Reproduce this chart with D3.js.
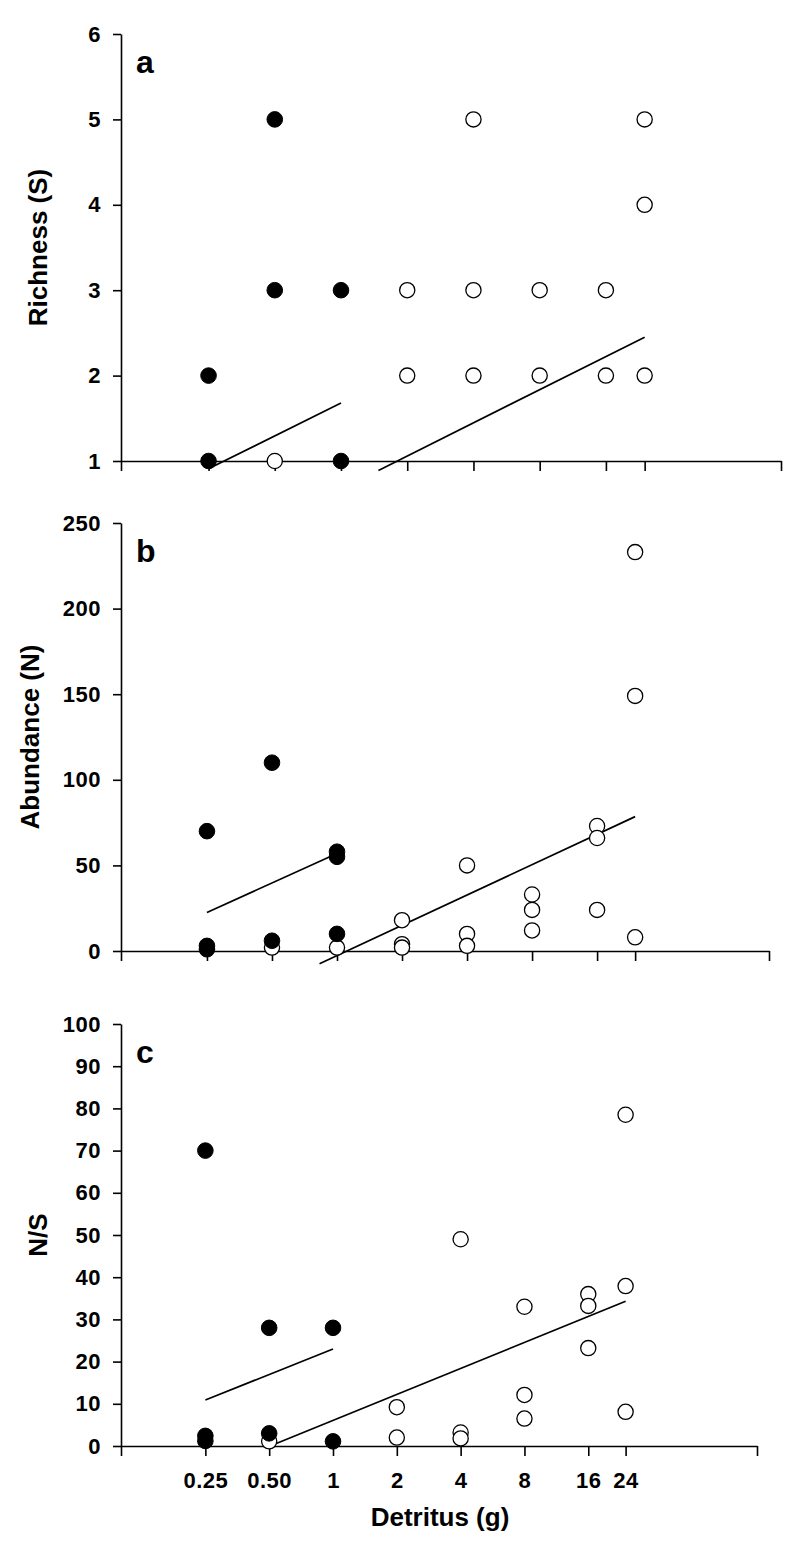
<!DOCTYPE html>
<html>
<head>
<meta charset="utf-8">
<script src="https://cdn.jsdelivr.net/npm/d3@7/dist/d3.min.js"></script>
<style>
  html, body { margin: 0; padding: 0; background: #fff; }
  svg { display: block; }
  text { font-family: "Liberation Sans", Arial, Helvetica, sans-serif; font-weight: bold; fill: #000; }
</style>
</head>
<body>
<svg id="chart" width="800" height="1551"></svg>
<script>
// ---------- data ----------
const xTickValues = [0.25, 0.5, 1, 2, 4, 8, 16, 24];
const xTickLabels = ["0.25", "0.50", "1", "2", "4", "8", "16", "24"];

// Panel a: Richness (S)
const richTicks = [1, 2, 3, 4, 5, 6];
const richFilledX = [0.25, 0.25, 0.5, 0.5, 1, 1];
const richFilledY = [2, 1, 5, 3, 3, 1];
const richOpenX = [0.5, 2, 2, 4, 4, 4, 8, 8, 16, 16, 24, 24, 24];
const richOpenY = [1, 3, 2, 5, 3, 2, 3, 2, 3, 2, 5, 4, 2];
const richFilledLine = [[0.255, 0.92], [1, 1.68]];
const richOpenLine = [[1.48, 0.89], [24, 2.45]];

// Panel b: Abundance (N)
const abunTicks = [0, 50, 100, 150, 200, 250];
const abunFilledX = [0.25, 0.25, 0.25, 0.5, 0.5, 1, 1, 1];
const abunFilledY = [70, 3, 1, 110, 6, 58, 55, 10];
const abunOpenX = [0.5, 1, 2, 2, 2, 4, 4, 4, 8, 8, 8, 16, 16, 16, 24, 24, 24];
const abunOpenY = [2, 2, 18, 4, 2, 50, 10, 3, 33, 24, 12, 73, 66, 24, 233, 149, 8];
const abunFilledLine = [[0.25, 22.5], [1, 57]];
const abunOpenLine = [[0.83, -7.5], [24, 78.5]];

// Panel c: N/S
const nsTicks = [0, 10, 20, 30, 40, 50, 60, 70, 80, 90, 100];
const nsFilledX = [0.25, 0.25, 0.25, 0.5, 0.5, 1, 1];
const nsFilledY = [70, 2.4, 1.2, 28, 3, 28, 1.1];
const nsOpenX = [0.5, 2, 2, 4, 4, 4, 8, 8, 8, 16, 16, 16, 24, 24, 24];
const nsOpenY = [1.1, 9.2, 2, 49, 3.2, 1.8, 33, 12.1, 6.5, 36, 33.2, 23.2, 78.5, 37.9, 8.1];
const nsFilledLine = [[0.25, 10.9], [1, 23.0]];
const nsOpenLine = [[0.54, 0.6], [24, 34.3]];

// ---------- drawing ----------
const svg = d3.select("#chart");

const panels = [
  { letter: "a", title: "Richness (S)", titleX: 38, ticks: richTicks, ydom: [1, 6],
    xr: [121, 781], yr: [461, 34],
    fx: richFilledX, fy: richFilledY, ox: richOpenX, oy: richOpenY,
    fl: richFilledLine, ol: richOpenLine, xlabels: false },
  { letter: "b", title: "Abundance (N)", titleX: 30, ticks: abunTicks, ydom: [0, 250],
    xr: [121, 769], yr: [951, 523],
    fx: abunFilledX, fy: abunFilledY, ox: abunOpenX, oy: abunOpenY,
    fl: abunFilledLine, ol: abunOpenLine, xlabels: false },
  { letter: "c", title: "N/S", titleX: 38, ticks: nsTicks, ydom: [0, 100],
    xr: [121, 757], yr: [1446, 1024],
    fx: nsFilledX, fy: nsFilledY, ox: nsOpenX, oy: nsOpenY,
    fl: nsFilledLine, ol: nsOpenLine, xlabels: true }
];

panels.forEach(p => {
  const x = d3.scaleLog().domain([0.1, 100]).range(p.xr);
  const y = d3.scaleLinear().domain(p.ydom).range(p.yr);
  const g = svg.append("g");

  // y axis
  const yAxis = d3.axisLeft(y).tickValues(p.ticks).tickSize(8).tickSizeOuter(0)
    .tickPadding(12).tickFormat(d3.format("d"));
  const ya = g.append("g").attr("transform", `translate(${p.xr[0]},0)`).call(yAxis);
  ya.selectAll("text").style("font-size", "22px").style("letter-spacing", "0.5px");
  ya.selectAll("path, line").attr("stroke", "#000").attr("stroke-width", 1.6);

  // x axis
  const xAxis = d3.axisBottom(x).tickValues([0.1].concat(xTickValues, [100]))
    .tickSize(10).tickSizeOuter(0).tickPadding(16)
    .tickFormat(d => {
      const i = xTickValues.indexOf(d);
      return (p.xlabels && i >= 0) ? xTickLabels[i] : "";
    });
  const xa = g.append("g").attr("transform", `translate(0,${p.yr[0]})`).call(xAxis);
  xa.selectAll("text").style("font-size", "22px").style("letter-spacing", "0.5px");
  xa.selectAll("path, line").attr("stroke", "#000").attr("stroke-width", 1.6);

  // regression lines (under points)
  const line = d3.line().x(d => x(d[0])).y(d => y(d[1]));
  [p.fl, p.ol].forEach(l => {
    g.append("path").attr("d", line(l)).attr("fill", "none")
      .attr("stroke", "#000").attr("stroke-width", 1.7);
  });

  // open points
  g.selectAll("circle.open").data(p.ox.map((v, i) => [v, p.oy[i]])).enter()
    .append("circle").attr("class", "open")
    .attr("cx", d => x(d[0])).attr("cy", d => y(d[1])).attr("r", 7.6)
    .attr("fill", "#fff").attr("stroke", "#000").attr("stroke-width", 1.3);

  // filled points
  g.selectAll("circle.filled").data(p.fx.map((v, i) => [v, p.fy[i]])).enter()
    .append("circle").attr("class", "filled")
    .attr("cx", d => x(d[0])).attr("cy", d => y(d[1])).attr("r", 7.8)
    .attr("fill", "#000").attr("stroke", "#000").attr("stroke-width", 1);

  // panel letter
  g.append("text").attr("x", 136).attr("y", p.yr[1] + 39)
    .style("font-size", "32px").text(p.letter);

  // y title
  const cy = (p.yr[0] + p.yr[1]) / 2;
  g.append("text")
    .attr("transform", `translate(${p.titleX},${cy}) rotate(-90)`)
    .attr("text-anchor", "middle").attr("dy", "0.35em")
    .style("font-size", "26px").text(p.title);
});

// x title
svg.append("text").attr("x", 440).attr("y", 1526).attr("text-anchor", "middle")
  .style("font-size", "26px").text("Detritus (g)");
</script>
</body>
</html>
